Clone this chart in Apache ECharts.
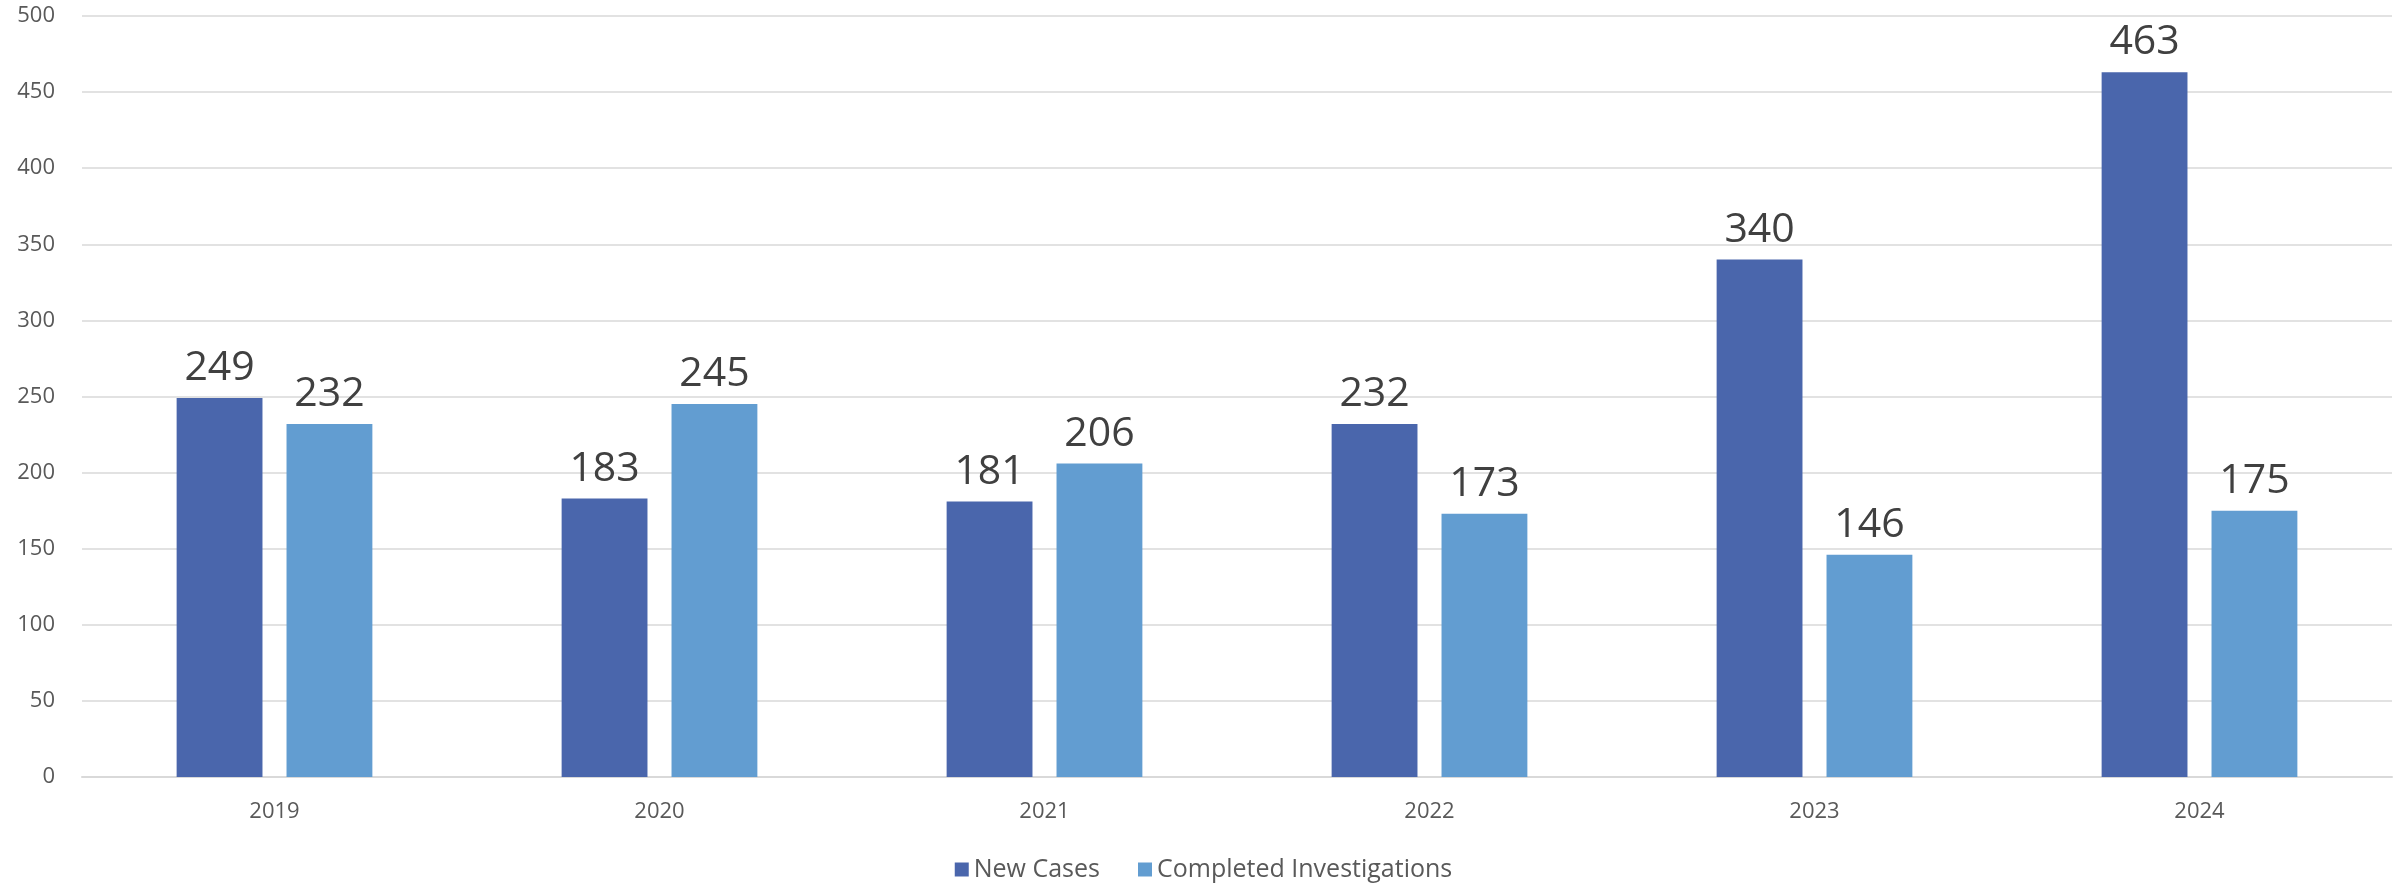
<!DOCTYPE html>
<html><head><meta charset="utf-8">
<script src="https://cdn.jsdelivr.net/npm/echarts@6/dist/echarts.min.js"></script>
<style>html,body{margin:0;padding:0;background:#fff}#c{width:2407px;height:887px}</style>
</head><body><div id="c"></div>
<script>
const years = ['2019','2020','2021','2022','2023','2024'];
const newCases = [249,183,181,232,340,463];
const completedInvestigations = [232,245,206,173,146,175];
const seriesNames = ['New Cases','Completed Investigations'];
const FONT = 'Open Sans';
const chart = echarts.init(document.getElementById('c'));
const lbl = {show:true, position:'top', distance:9, color:'#404040', fontSize:41, fontFamily:FONT};
chart.setOption({
  animation:false,
  grid:{left:82, right:15, top:16, bottom:110, containLabel:false},
  legend:{bottom:0, left:'center', itemWidth:14, itemHeight:14, itemGap:38, icon:'rect',
    textStyle:{color:'#595959', fontSize:25, fontFamily:FONT}, data:seriesNames},
  xAxis:{type:'category', data:years,
    axisLine:{lineStyle:{color:'#d9d9d9', width:2}}, axisTick:{show:false},
    axisLabel:{color:'#595959', fontSize:22, fontFamily:FONT, margin:24}},
  yAxis:{type:'value', min:0, max:500, interval:50,
    axisLine:{show:false}, axisTick:{show:false},
    splitLine:{lineStyle:{color:'#d9d9d9', width:1.5}},
    axisLabel:{color:'#595959', fontSize:22, fontFamily:FONT, margin:27}},
  series:[
    {name:seriesNames[0], type:'bar', data:newCases, barWidth:'22.3%', barGap:'28%',
     itemStyle:{color:'#4A66AC'}, label:lbl},
    {name:seriesNames[1], type:'bar', data:completedInvestigations, barWidth:'22.3%',
     itemStyle:{color:'#629DD1'}, label:lbl}
  ]
});
</script></body></html>
